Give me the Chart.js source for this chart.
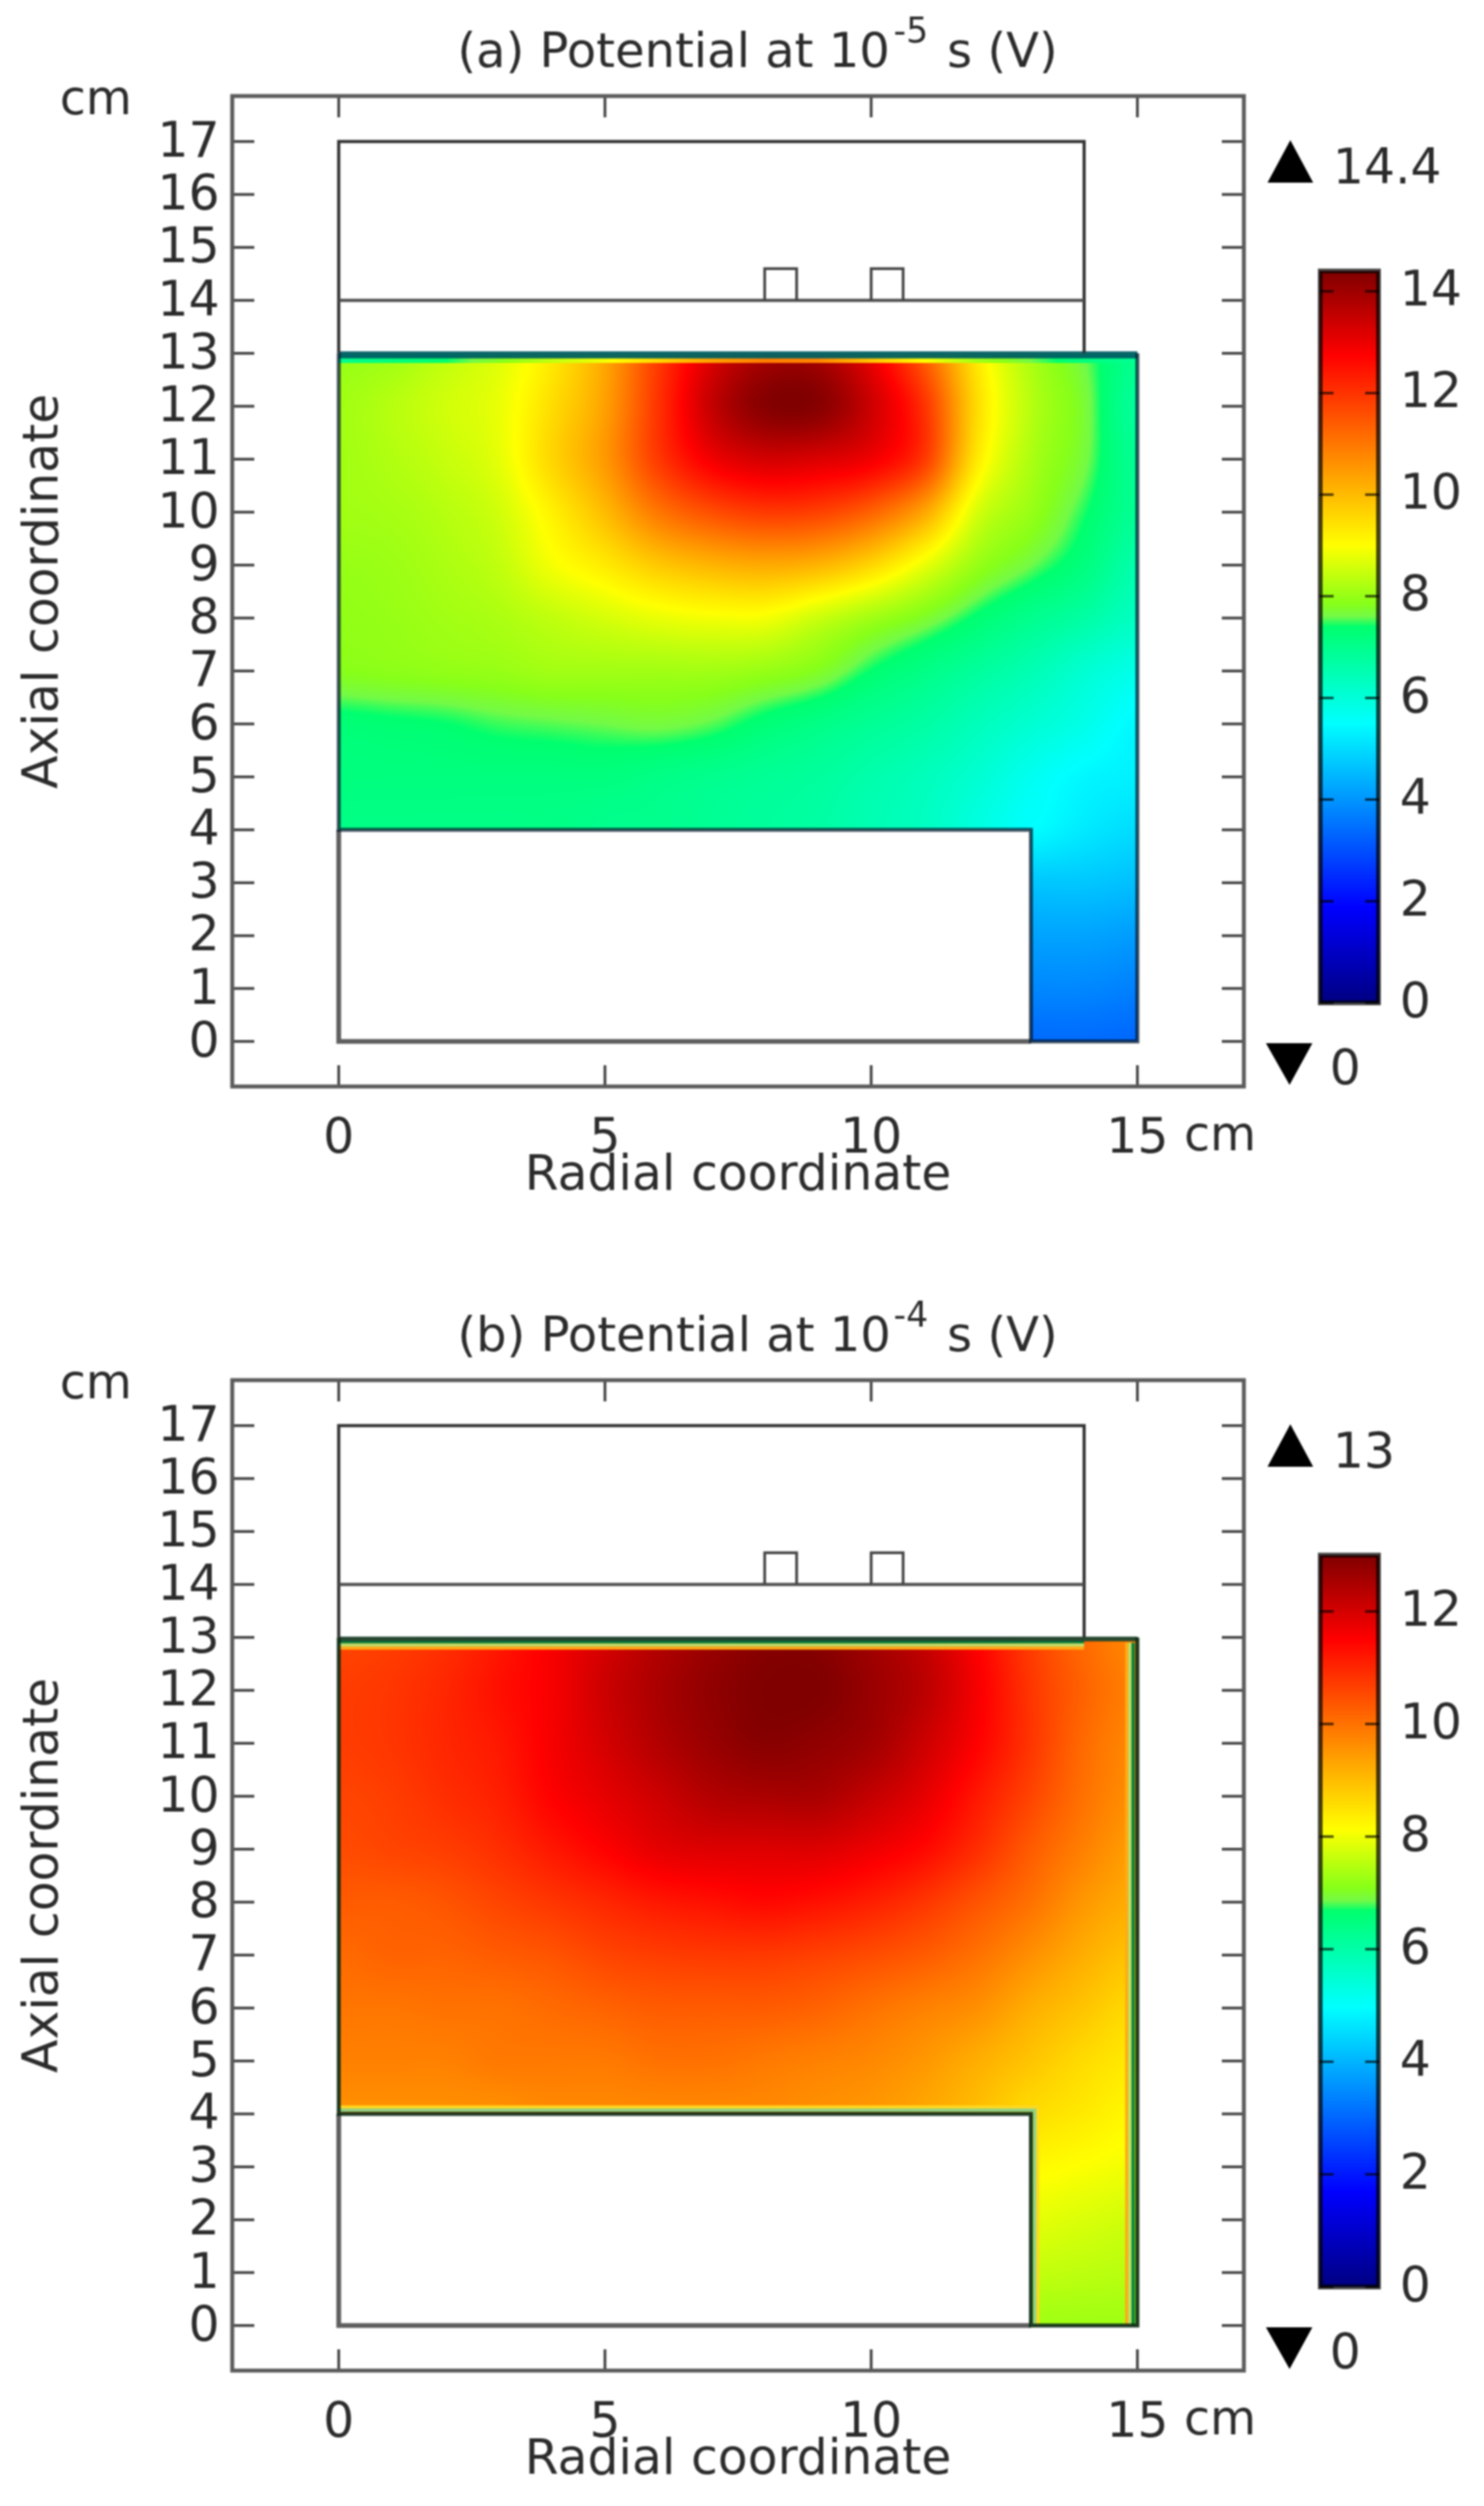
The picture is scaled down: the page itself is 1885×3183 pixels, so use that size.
<!DOCTYPE html>
<html lang="en">
<head>
<meta charset="utf-8">
<title>Potential at 10-5 s and 10-4 s</title>
<script src="https://cdn.jsdelivr.net/npm/chart.js@4"></script>
<style>
html, body { margin: 0; padding: 0; background: #fff; }
body { position: relative; width: 1885px; height: 3183px; overflow: hidden; }
canvas { position: absolute; filter: blur(0.8px); }
</style>
</head>
<body>
<canvas id="mainA" width="1885" height="1552" style="left:0;top:0"></canvas>
<canvas id="barA" width="265" height="1040" style="left:1620px;top:289px"></canvas>
<canvas id="mainB" width="1885" height="1552" style="left:0;top:1631px"></canvas>
<canvas id="barB" width="265" height="1040" style="left:1620px;top:1920px"></canvas>
<script>
// axes
const radialTicks = [0, 5, 10, 15];
const axialTicks = [0, 1, 2, 3, 4, 5, 6, 7, 8, 9, 10, 11, 12, 13, 14, 15, 16, 17];
const barTicksA = [0, 2, 4, 6, 8, 10, 12, 14];
const barTicksB = [0, 2, 4, 6, 8, 10, 12];

// potential, one row per cm of axial coordinate, r = 0..15
const a13 = [8.0, 8.1, 8.4, 8.7, 9.3, 10.3, 11.9, 13.2, 13.9, 13.9, 13.0, 11.4, 9.3, 8.2, 7.6, 7.0];
const a12 = [8.1, 8.3, 8.55, 8.8, 9.5, 10.4, 12.0, 13.5, 14.3, 14.3, 13.4, 12.0, 9.5, 8.3, 7.7, 6.8];
const a11 = [8.1, 8.25, 8.45, 8.75, 9.6, 10.5, 11.9, 12.9, 13.3, 13.2, 12.9, 11.9, 9.3, 8.2, 7.65, 6.9];
const a10 = [8.1, 8.15, 8.3, 8.55, 9.2, 10.0, 11.0, 11.6, 11.9, 11.8, 11.3, 10.3, 8.6, 8.0, 7.45, 6.9];
const a9 = [8.0, 8.05, 8.2, 8.4, 8.9, 9.3, 9.8, 10.1, 10.25, 10.1, 9.6, 8.8, 8.0, 7.6, 7.2, 6.6];
const a8 = [7.95, 8.0, 8.1, 8.2, 8.4, 8.6, 8.8, 8.9, 8.9, 8.5, 8.1, 7.75, 7.35, 7.0, 6.7, 6.3];
const a7 = [7.85, 7.9, 7.95, 8.0, 8.1, 8.1, 8.1, 8.1, 8.0, 7.8, 7.4, 7.1, 6.8, 6.5, 6.1, 5.8];
const a6 = [7.3, 7.35, 7.4, 7.5, 7.55, 7.6, 7.65, 7.55, 7.3, 7.1, 6.9, 6.7, 6.4, 6.1, 5.8, 5.4];
const a5 = [7.2, 7.2, 7.2, 7.2, 7.2, 7.2, 7.1, 7.0, 6.9, 6.8, 6.6, 6.4, 6.1, 5.7, 5.4, 5.3];
const a4 = [7.1, 7.1, 7.1, 7.1, 7.1, 7.0, 7.0, 6.9, 6.8, 6.7, 6.5, 6.3, 5.9, 5.5, 5.2, 5.0];
// the leg below 4 cm only spans r = 13..15
const a3 = [4.7, 4.7, 4.6];
const a2 = [4.2, 4.2, 4.1];
const a1 = [3.8, 3.8, 3.7];
const a0 = [3.4, 3.4, 3.35];
// thin layer under the top edge of (a)
const aTop = [7.0, 7.2, 7.4, 7.8, 8.4, 8.9, 9.6, 10.4, 10.9, 10.8, 9.9, 9.0, 8.1, 7.6, 7.2, 6.9];

// same for panel (b)
const b13 = [10.6, 10.7, 10.9, 11.2, 11.6, 12.0, 12.4, 12.7, 12.9, 12.9, 12.6, 12.2, 11.5, 10.7, 10.1, 9.7];
const b12 = [10.7, 10.8, 11.0, 11.3, 11.6, 12.1, 12.5, 12.8, 13.0, 13.0, 12.7, 12.3, 11.6, 10.8, 10.2, 9.8];
const b11 = [10.7, 10.8, 11.0, 11.2, 11.6, 12.0, 12.4, 12.7, 12.9, 12.8, 12.6, 12.1, 11.5, 10.8, 10.1, 9.7];
const b10 = [10.6, 10.7, 10.9, 11.1, 11.5, 11.8, 12.1, 12.4, 12.5, 12.5, 12.2, 11.8, 11.2, 10.6, 10.0, 9.6];
const b9 = [10.5, 10.6, 10.7, 10.9, 11.2, 11.5, 11.8, 11.9, 11.9, 11.9, 11.7, 11.4, 10.9, 10.3, 9.8, 9.4];
const b8 = [10.3, 10.3, 10.4, 10.6, 10.8, 11.0, 11.2, 11.3, 11.4, 11.3, 11.1, 10.8, 10.4, 10.0, 9.5, 9.2];
const b7 = [10.1, 10.2, 10.2, 10.3, 10.4, 10.6, 10.7, 10.75, 10.75, 10.65, 10.5, 10.3, 10.0, 9.6, 9.2, 8.9];
const b6 = [9.95, 9.95, 10.0, 10.0, 10.1, 10.2, 10.3, 10.3, 10.3, 10.2, 10.0, 9.8, 9.6, 9.2, 8.9, 8.6];
const b5 = [9.8, 9.8, 9.8, 9.9, 9.9, 9.9, 10.0, 10.0, 9.9, 9.8, 9.7, 9.5, 9.2, 8.9, 8.6, 8.4];
const b4 = [9.6, 9.6, 9.6, 9.6, 9.7, 9.7, 9.7, 9.7, 9.7, 9.6, 9.5, 9.3, 9.0, 8.6, 8.4, 8.2];
const b3 = [8.2, 8.1, 8.0];
const b2 = [7.9, 7.8, 7.7];
const b1 = [7.6, 7.55, 7.5];
const b0 = [7.3, 7.3, 7.3];

// colour bar stops, fraction of the range -> rgb
const stopT = [0, 0.13, 0.382, 0.514, 0.528, 0.545, 0.625, 0.885, 1];
const stopR = [0, 0, 0, 0, 115, 135, 255, 255, 128];
const stopG = [0, 0, 255, 255, 250, 255, 255, 0, 0];
const stopB = [130, 255, 255, 110, 70, 25, 0, 0, 0];

// geometry in cm
const upperBoxR = [0, 0, 14, 14];
const upperBoxZ = [13, 17, 17, 13];
const midLineR = [0, 14];
const midLineZ = [14, 14];
const padOneR = [8, 8, 8.6, 8.6];
const padTwoR = [10, 10, 10.6, 10.6];
const padZ = [14, 14.6, 14.6, 14];
const lowerBoxR = [0, 0, 13];
const lowerBoxZ = [4, 0, 0];
const domainR = [0, 0, 13, 13, 15, 15];
const domainZ = [13, 4, 4, 0, 0, 13];

const FONT = '"DejaVu Sans"';
const TEXT = '#2b2b2b';

function stopColor(t) {
  t = Math.max(0, Math.min(1, t));
  let i = 0;
  while (i < stopT.length - 2 && t > stopT[i + 1]) i++;
  const f = (t - stopT[i]) / (stopT[i + 1] - stopT[i]);
  return [
    stopR[i] + (stopR[i + 1] - stopR[i]) * f,
    stopG[i] + (stopG[i + 1] - stopG[i]) * f,
    stopB[i] + (stopB[i + 1] - stopB[i]) * f
  ];
}

function catmull(p0, p1, p2, p3, t) {
  return p1 + 0.5 * t * (p2 - p0 + t * (2 * p0 - 5 * p1 + 4 * p2 - p3 + t * (3 * (p1 - p2) + p3 - p0)));
}

// rows[z] holds the row at z cm
function sampleField(rows, r, z) {
  const cellAt = (i, j) => {
    j = Math.max(0, Math.min(13, j));
    if (j < 4 && r < 13) j = 4;
    if (j < 4) return rows[j][Math.max(0, Math.min(2, i - 13))];
    return rows[j][Math.max(0, Math.min(15, i))];
  };
  const i = Math.min(14, Math.floor(r));
  const j = Math.min(12, Math.floor(z));
  const fr = r - i, fz = z - j;
  const vals = [];
  for (let k = -1; k <= 2; k++) {
    vals.push(catmull(cellAt(i - 1, j + k), cellAt(i, j + k), cellAt(i + 1, j + k), cellAt(i + 2, j + k), fr));
  }
  return catmull(vals[0], vals[1], vals[2], vals[3], fz);
}

const fieldPlugin = {
  id: 'fieldShade',
  beforeDatasetsDraw(chart, args, opts) {
    const { ctx, scales: { x, y } } = chart;
    const x0 = Math.round(x.getPixelForValue(0)), x1 = Math.round(x.getPixelForValue(15));
    const y0 = Math.round(y.getPixelForValue(13)), y1 = Math.round(y.getPixelForValue(0));
    const img = ctx.createImageData(x1 - x0, y1 - y0);
    for (let py = y0; py < y1; py++) {
      const z = y.getValueForPixel(py + 0.5);
      for (let px = x0; px < x1; px++) {
        const r = x.getValueForPixel(px + 0.5);
        if (z < 4 && r < 13) continue;
        let v = sampleField(opts.rows, r, z);
        if (opts.topLayer && z > 12.82) {
          const i = Math.min(14, Math.floor(r));
          v = opts.topLayer[i] + (opts.topLayer[i + 1] - opts.topLayer[i]) * (r - i);
        }
        const c = stopColor(v / opts.vmax);
        const o = ((py - y0) * (x1 - x0) + (px - x0)) * 4;
        img.data[o] = c[0];
        img.data[o + 1] = c[1];
        img.data[o + 2] = c[2];
        img.data[o + 3] = 255;
      }
    }
    ctx.putImageData(img, x0, y0);
  }
};

// axis box, inward ticks on all four sides, unit labels, title
const framePlugin = {
  id: 'frame',
  afterDatasetsDraw(chart, args, opts) {
    const { ctx, chartArea: a, scales: { x, y } } = chart;
    ctx.save();
    ctx.strokeStyle = '#444';
    ctx.lineWidth = 3.5;
    ctx.beginPath();
    radialTicks.forEach(v => {
      const p = x.getPixelForValue(v);
      ctx.moveTo(p, a.top); ctx.lineTo(p, a.top + 27);
      ctx.moveTo(p, a.bottom); ctx.lineTo(p, a.bottom - 27);
    });
    axialTicks.forEach(v => {
      const p = y.getPixelForValue(v);
      ctx.moveTo(a.left, p); ctx.lineTo(a.left + 28, p);
      ctx.moveTo(a.right, p); ctx.lineTo(a.right - 28, p);
    });
    ctx.stroke();
    ctx.strokeStyle = '#5a5a5a';
    ctx.lineWidth = 5;
    ctx.strokeRect(a.left, a.top, a.right - a.left, a.bottom - a.top);

    ctx.fillStyle = TEXT;
    ctx.textBaseline = 'alphabetic';
    ctx.textAlign = 'left';
    ctx.font = '60px ' + FONT;
    ctx.fillText('cm', 76, 145);
    ctx.fillText('cm', 1504, 1461);
    ctx.font = '62px ' + FONT;
    ctx.fillText(opts.maxLabel, 1693, 233);
    ctx.fillText('0', 1689, 1377);

    ctx.font = '61px ' + FONT;
    ctx.fillText(opts.title, 581, 85);
    ctx.font = '44px ' + FONT;
    ctx.fillText(opts.sup, 1135, 54);
    ctx.font = '61px ' + FONT;
    ctx.fillText('s (V)', 1203, 85);

    ctx.fillStyle = '#000';
    ctx.beginPath();
    ctx.moveTo(1639, 178); ctx.lineTo(1668, 232); ctx.lineTo(1610, 232); ctx.closePath();
    ctx.moveTo(1608, 1325); ctx.lineTo(1667, 1325); ctx.lineTo(1638, 1378); ctx.closePath();
    ctx.fill();
    ctx.restore();
  }
};

function line(rs, zs, color, width, extra) {
  return Object.assign({
    type: 'scatter',
    showLine: true,
    data: rs.map((r, i) => ({ x: r, y: zs[i] })),
    borderColor: color,
    borderWidth: width,
    pointRadius: 0,
    clip: false,
    borderCapStyle: 'butt',
    borderJoinStyle: 'miter'
  }, extra || {});
}

function geometryLines(domainColor, topColor, topWidth) {
  return [
    line([0, 15], [12.97, 12.97], topColor, topWidth),
    line(upperBoxR, upperBoxZ, '#333', 4),
    line(midLineR, midLineZ, '#4d4d4d', 4),
    line(padOneR, padZ, '#444', 3.5),
    line(padTwoR, padZ, '#444', 3.5),
    line(lowerBoxR, lowerBoxZ, '#5e5e5e', 6),
    line(domainR, domainZ, domainColor, 5)
  ];
}

// bands hugging the conducting walls of (b)
function wallBands() {
  const bands = [];
  [[0.2, '#ffab14'], [0.14, '#bee16e'], [0.08, '#00823c']].forEach(b => {
    bands.push(line([0, 14], [13 - b[0], 13 - b[0]], b[1], 4));
    bands.push(line([15 - b[0], 15 - b[0]], [12.9, 0], b[1], 4));
  });
  [[0.13, '#ffd820'], [0.07, '#8cd28c']].forEach(b => {
    bands.push(line([0, 13 + b[0], 13 + b[0]], [4 + b[0], 4 + b[0], 0], b[1], 4));
  });
  return bands;
}

function buildMain(id, cfg) {
  const nodes = [];
  cfg.rows.forEach((row, z) => {
    row.forEach((v, i) => nodes.push({ x: z < 4 ? 13 + i : i, y: z, v: v }));
  });
  const sets = [
    { type: 'scatter', label: 'potential', data: nodes, pointRadius: 0 }
  ].concat(cfg.lines);
  sets.forEach((s, i) => { s.order = sets.length - i; });

  return new Chart(document.getElementById(id), {
    type: 'scatter',
    data: { datasets: sets },
    plugins: [fieldPlugin, framePlugin],
    options: {
      responsive: false,
      animation: false,
      events: [],
      layout: { padding: { left: 0, top: 122, right: 305, bottom: 0 } },
      plugins: {
        legend: { display: false },
        tooltip: { enabled: false },
        fieldShade: { rows: cfg.rows, vmax: cfg.vmax, topLayer: cfg.topLayer },
        frame: { title: cfg.title, sup: cfg.sup, maxLabel: cfg.maxLabel }
      },
      scales: {
        x: {
          type: 'linear', min: -2, max: 17,
          grid: { display: false }, border: { display: false },
          afterBuildTicks: s => { s.ticks = radialTicks.map(v => ({ value: v })); },
          afterFit: s => { s.height = 172; },
          ticks: { color: TEXT, font: { family: FONT, size: 62 }, padding: 23, maxRotation: 0, autoSkip: false },
          title: { display: true, text: 'Radial coordinate', color: TEXT, font: { family: FONT, size: 62 }, padding: { top: 0, bottom: 20 } }
        },
        y: {
          type: 'linear', min: -0.85, max: 17.86,
          grid: { display: false }, border: { display: false },
          afterBuildTicks: s => { s.ticks = axialTicks.map(v => ({ value: v })); },
          afterFit: s => { s.width = 295; },
          ticks: { color: TEXT, font: { family: FONT, size: 62 }, padding: 8, labelOffset: 3, autoSkip: false },
          title: { display: true, text: 'Axial coordinate', color: TEXT, font: { family: FONT, size: 62 }, padding: { top: 20, bottom: 0 } }
        }
      }
    }
  });
}

const barEdge = {
  id: 'barEdge',
  afterDatasetsDraw(chart, args, opts) {
    const { ctx, chartArea: a, scales: { y } } = chart;
    ctx.save();
    ctx.strokeStyle = 'rgba(0,0,0,0.72)';
    ctx.lineWidth = 6;
    ctx.strokeRect(a.left + 1, a.top, a.right - a.left - 2, a.bottom - a.top);
    ctx.lineWidth = 3;
    ctx.beginPath();
    opts.ticks.forEach(v => {
      const p = y.getPixelForValue(v);
      ctx.moveTo(a.left, p); ctx.lineTo(a.left + 18, p);
      ctx.moveTo(a.right, p); ctx.lineTo(a.right - 18, p);
    });
    ctx.stroke();
    ctx.restore();
  }
};

function buildBar(id, vmax, ticks) {
  return new Chart(document.getElementById(id), {
    type: 'bar',
    data: {
      labels: ['potential'],
      datasets: [{
        data: [[0, vmax]],
        barPercentage: 1,
        categoryPercentage: 1,
        backgroundColor: c => {
          const area = c.chart.chartArea;
          if (!area) return '#000';
          const g = c.chart.ctx.createLinearGradient(0, area.bottom, 0, area.top);
          stopT.forEach((t, i) => g.addColorStop(t, `rgb(${stopR[i]},${stopG[i]},${stopB[i]})`));
          return g;
        }
      }]
    },
    plugins: [barEdge],
    options: {
      responsive: false,
      animation: false,
      events: [],
      layout: { padding: { left: 56, top: 42, right: 0, bottom: 30 } },
      plugins: { legend: { display: false }, tooltip: { enabled: false }, barEdge: { ticks: ticks } },
      scales: {
        x: { display: false },
        y: {
          position: 'right', min: 0, max: vmax,
          grid: { display: false }, border: { display: false },
          afterBuildTicks: s => { s.ticks = ticks.map(v => ({ value: v })); },
          afterFit: s => { s.width = 133; },
          ticks: { color: TEXT, font: { family: FONT, size: 62 }, padding: 18, labelOffset: 2, autoSkip: false }
        }
      }
    }
  });
}

buildMain('mainA', {
  rows: [a0, a1, a2, a3, a4, a5, a6, a7, a8, a9, a10, a11, a12, a13],
  vmax: 14.4,
  topLayer: aTop,
  title: '(a) Potential at 10',
  sup: '-5',
  maxLabel: '14.4',
  lines: geometryLines('rgba(0,20,40,0.72)', 'rgba(0,95,100,0.95)', 9)
});
buildBar('barA', 14.4, barTicksA);

buildMain('mainB', {
  rows: [b0, b1, b2, b3, b4, b5, b6, b7, b8, b9, b10, b11, b12, b13],
  vmax: 13,
  title: '(b) Potential at 10',
  sup: '-4',
  maxLabel: '13',
  lines: wallBands().concat(geometryLines('rgba(10,40,20,0.9)', 'rgba(30,70,50,0.95)', 6))
});
buildBar('barB', 13, barTicksB);
</script>
</body>
</html>
